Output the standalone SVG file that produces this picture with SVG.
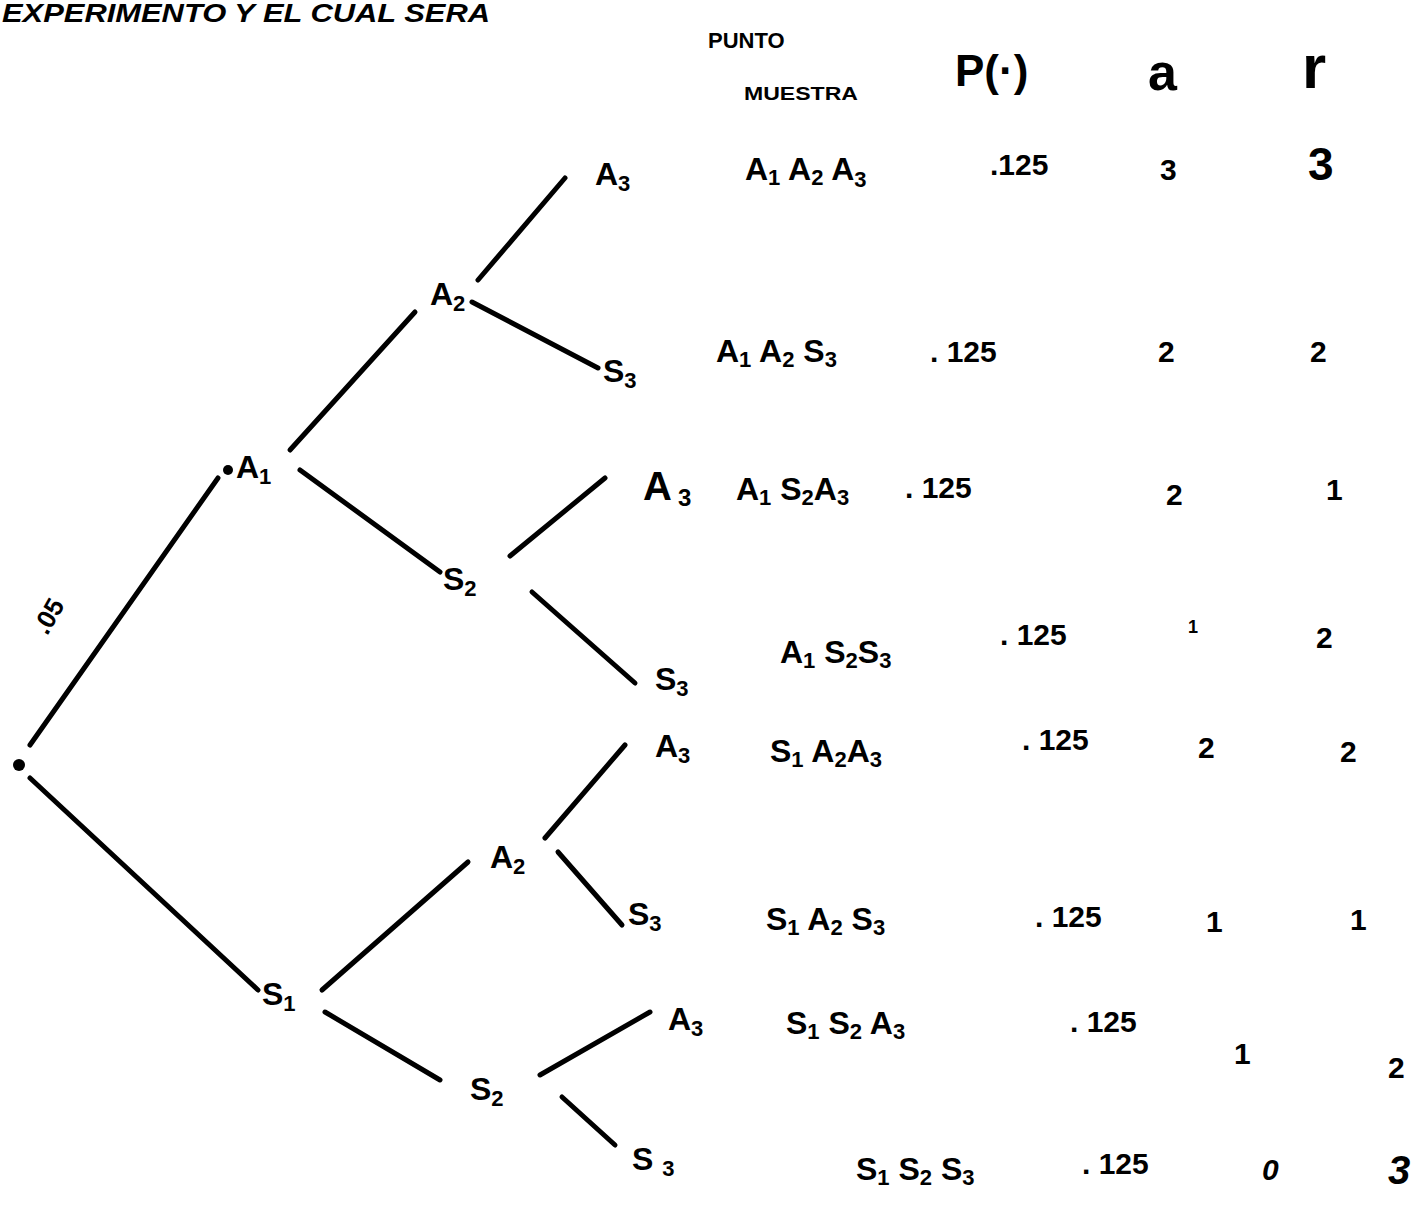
<svg xmlns="http://www.w3.org/2000/svg" width="1421" height="1218" viewBox="0 0 1421 1218">
<style>
text{font-family:"Liberation Sans",Arial,sans-serif;font-weight:bold;fill:#000}
.lbl{font-size:32px}
.row{font-size:32px}
.num{font-size:30px}
.big{font-size:40px}
.hdr{font-size:22px}
.sub{font-size:22px}
.edge{stroke:#000;stroke-width:5;stroke-linecap:round;fill:none}
</style>
<rect width="1421" height="1218" fill="#fff"/>
<text x="2" y="22" font-size="26" font-style="italic" textLength="488" lengthAdjust="spacingAndGlyphs">EXPERIMENTO Y EL CUAL SERA</text>
<g id="headers">
<text class="hdr" x="708" y="48">PUNTO</text>
<text x="744" y="100" font-size="19" textLength="114" lengthAdjust="spacingAndGlyphs">MUESTRA</text>
<text x="955" y="86" font-size="44">P(·)</text>
<text x="1148" y="90" font-size="52">a</text>
<text x="1302" y="88" font-size="62">r</text>
</g>
<g id="connectors">
<line class="edge" x1="30" y1="745" x2="218" y2="478"/>
<line class="edge" x1="30" y1="778" x2="258" y2="990"/>
<line class="edge" x1="290" y1="450" x2="415" y2="312"/>
<line class="edge" x1="300" y1="470" x2="440" y2="572"/>
<line class="edge" x1="478" y1="280" x2="565" y2="178"/>
<line class="edge" x1="472" y1="302" x2="598" y2="368"/>
<line class="edge" x1="510" y1="556" x2="605" y2="478"/>
<line class="edge" x1="532" y1="592" x2="635" y2="683"/>
<line class="edge" x1="322" y1="990" x2="468" y2="862"/>
<line class="edge" x1="325" y1="1012" x2="440" y2="1080"/>
<line class="edge" x1="545" y1="838" x2="625" y2="745"/>
<line class="edge" x1="558" y1="852" x2="622" y2="925"/>
<line class="edge" x1="540" y1="1075" x2="650" y2="1012"/>
<line class="edge" x1="562" y1="1097" x2="615" y2="1145"/>
</g>
<g id="root"><circle cx="19" cy="765" r="6" fill="#000"/><text x="32" y="630" font-size="26" transform="rotate(-60 45 620)">.05</text></g>
<g id="n-A1"><circle cx="228" cy="470" r="5" fill="#000"/><text class="lbl" x="236" y="478">A<tspan class="sub" dy="6">1</tspan></text></g>
<g id="n-A2a"><text class="lbl" x="430" y="305">A<tspan class="sub" dy="6">2</tspan></text></g>
<g id="n-A3a"><text class="lbl" x="595" y="185">A<tspan class="sub" dy="6">3</tspan></text></g>
<g id="n-S3a"><text class="lbl" x="603" y="382">S<tspan class="sub" dy="6">3</tspan></text></g>
<g id="n-S2a"><text class="lbl" x="443" y="590">S<tspan class="sub" dy="6">2</tspan></text></g>
<g id="n-A3b"><text class="big" x="643" y="500">A<tspan font-size="24" dx="6" dy="6">3</tspan></text></g>
<g id="n-S3b"><text class="lbl" x="655" y="690">S<tspan class="sub" dy="6">3</tspan></text></g>
<g id="n-S1"><text class="lbl" x="262" y="1005">S<tspan class="sub" dy="6">1</tspan></text></g>
<g id="n-A2b"><text class="lbl" x="490" y="868">A<tspan class="sub" dy="6">2</tspan></text></g>
<g id="n-A3c"><text class="lbl" x="655" y="757">A<tspan class="sub" dy="6">3</tspan></text></g>
<g id="n-S3c"><text class="lbl" x="628" y="925">S<tspan class="sub" dy="6">3</tspan></text></g>
<g id="n-S2b"><text class="lbl" x="470" y="1100">S<tspan class="sub" dy="6">2</tspan></text></g>
<g id="n-A3d"><text class="lbl" x="668" y="1030">A<tspan class="sub" dy="6">3</tspan></text></g>
<g id="n-S3d"><text class="lbl" x="632" y="1170">S <tspan class="sub" dy="6">3</tspan></text></g>
<g id="rows">
<text class="row" x="745" y="180">A<tspan class="sub" dy="5">1</tspan><tspan dy="-5"> A</tspan><tspan class="sub" dy="5">2</tspan><tspan dy="-5"> A</tspan><tspan class="sub" dy="7">3</tspan></text>
<text class="num" x="990" y="175" font-size="28">.125</text>
<text class="num" x="1160" y="180" font-size="34">3</text>
<text x="1308" y="180" font-size="46">3</text>

<text class="row" x="716" y="362">A<tspan class="sub" dy="5">1</tspan><tspan dy="-5"> A</tspan><tspan class="sub" dy="5">2</tspan><tspan dy="-5">  S</tspan><tspan class="sub" dy="5">3</tspan></text>
<text class="num" x="930" y="362" font-size="28">. 125</text>
<text class="num" x="1158" y="362" font-size="34">2</text>
<text class="num" x="1310" y="362" font-size="36">2</text>

<text class="row" x="736" y="500">A<tspan class="sub" dy="5">1</tspan><tspan dy="-5"> S</tspan><tspan class="sub" dy="5">2</tspan><tspan dy="-5">A</tspan><tspan class="sub" dy="5">3</tspan></text>
<text class="num" x="905" y="498" font-size="28">. 125</text>
<text class="num" x="1166" y="505" font-size="38">2</text>
<text class="num" x="1326" y="500" font-size="36">1</text>

<text class="row" x="780" y="663">A<tspan class="sub" dy="5">1</tspan><tspan dy="-5"> S</tspan><tspan class="sub" dy="5">2</tspan><tspan dy="-5">S</tspan><tspan class="sub" dy="5">3</tspan></text>
<text class="num" x="1000" y="645" font-size="28">. 125</text>
<text x="1188" y="633" font-size="18">1</text>
<text class="num" x="1316" y="648" font-size="36">2</text>

<text class="row" x="770" y="762">S<tspan class="sub" dy="5">1</tspan><tspan dy="-5"> A</tspan><tspan class="sub" dy="5">2</tspan><tspan dy="-5">A</tspan><tspan class="sub" dy="5">3</tspan></text>
<text class="num" x="1022" y="750" font-size="28">. 125</text>
<text class="num" x="1198" y="758" font-size="34">2</text>
<text class="num" x="1340" y="762" font-size="36">2</text>

<text class="row" x="766" y="930">S<tspan class="sub" dy="5">1</tspan><tspan dy="-5">  A</tspan><tspan class="sub" dy="5">2</tspan><tspan dy="-5">  S</tspan><tspan class="sub" dy="5">3</tspan></text>
<text class="num" x="1035" y="927" font-size="28">. 125</text>
<text class="num" x="1206" y="932" font-size="36">1</text>
<text class="num" x="1350" y="930" font-size="36">1</text>

<text class="row" x="786" y="1034">S<tspan class="sub" dy="5">1</tspan><tspan dy="-5">  S</tspan><tspan class="sub" dy="5">2</tspan><tspan dy="-5">  A</tspan><tspan class="sub" dy="5">3</tspan></text>
<text class="num" x="1070" y="1032" font-size="28">. 125</text>
<text class="num" x="1234" y="1064" font-size="42">1</text>
<text class="num" x="1388" y="1078" font-size="38">2</text>

<text class="row" x="856" y="1180">S<tspan class="sub" dy="5">1</tspan><tspan dy="-5">  S</tspan><tspan class="sub" dy="5">2</tspan><tspan dy="-5"> S</tspan><tspan class="sub" dy="5">3</tspan></text>
<text class="num" x="1082" y="1174" font-size="28">. 125</text>
<text class="num" x="1262" y="1180" font-size="34" font-style="italic">0</text>
<text x="1388" y="1184" font-size="40" font-style="italic">3</text>
</g>
</svg>
